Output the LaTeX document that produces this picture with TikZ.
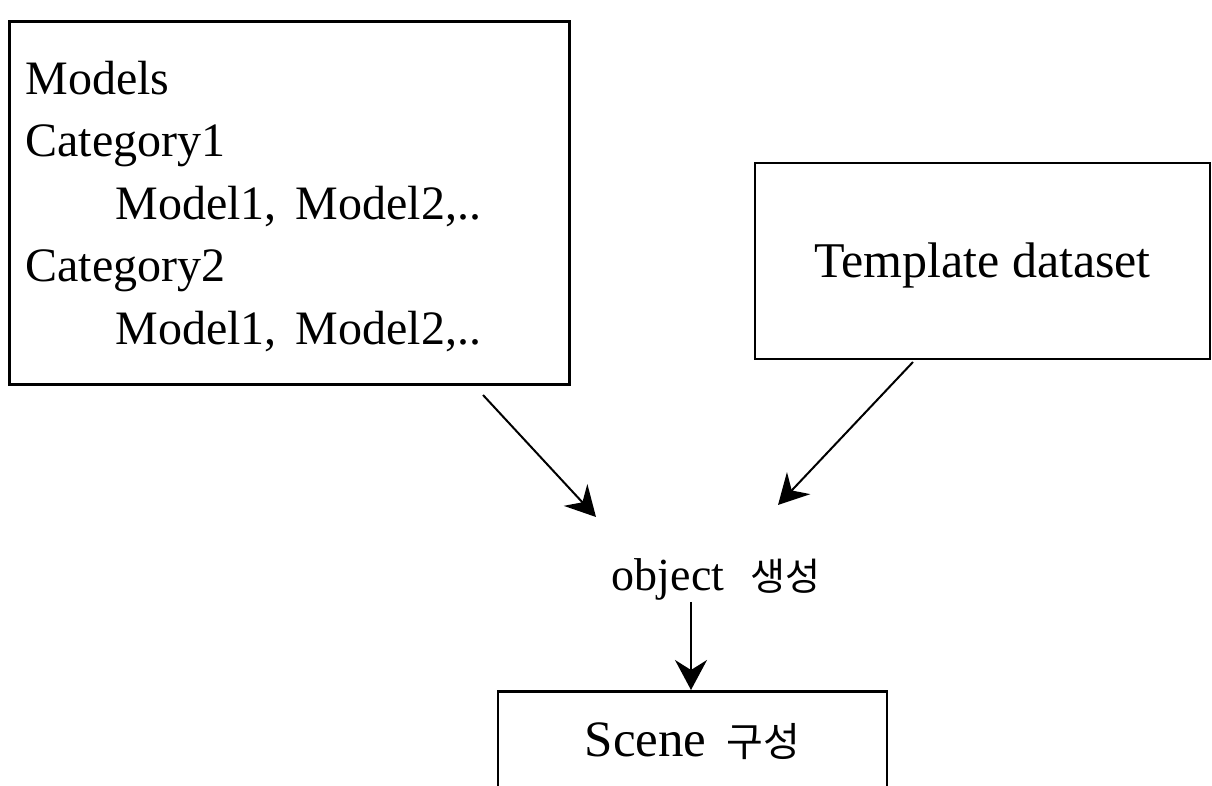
\documentclass[tikz,border=0pt]{standalone}
\usepackage{fontspec}
\setmainfont{Liberation Serif}
\newfontfamily\kr{Noto Sans CJK KR}
\usetikzlibrary{arrows.meta}

\begin{document}
\begin{tikzpicture}[x=0.5pt,y=-0.5pt,
	box/.style={draw, line width=1.3pt, inner sep=0pt},
	arr/.style={line width=1pt, -{Stealth[length=15pt,width=16pt,inset=5pt]}}]
		\useasboundingbox (0,0) rectangle (1212,786);
		\clip (0,0) rectangle (1212,786);
		% model list
		\node[box, anchor=north west, minimum width=280pt, minimum height=181.5pt] (models) at (8,20) {};
		\node[anchor=north west, inner sep=0pt, align=left, font=\fontsize{24}{31.25}\selectfont] (modlist) at (25,60.5)
			{Models\\Category1\\\hspace*{45pt}Model1,\hspace{0.4em}Model2,..\\Category2\\\hspace*{45pt}Model1,\hspace{0.4em}Model2,..};
		% template
		\node[box, minimum width=227.5pt, minimum height=98pt, text height=17pt, text depth=0pt, font=\fontsize{25}{30}\selectfont] (tmpl) at (982.5,261) {Template dataset};
		% object / scene
		\node[anchor=base, inner sep=0pt, font=\fontsize{23}{28}\selectfont] (obj) at (716,590) {object\hspace{13pt}{\kr\fontsize{19}{24}\selectfont 생성}};
		\node[box, anchor=north, minimum width=194.5pt, minimum height=65pt, text height=17pt, text depth=17pt, font=\fontsize{25.5}{30}\selectfont] (scene) at (692.5,690) {Scene\hspace{10pt}{\kr\fontsize{20}{24}\selectfont 구성}};
		\coordinate (mo) at (483,395);
		\coordinate (oi) at (596,517);
		\coordinate (to) at (913,362);
		\coordinate (oj) at (778,505);
		\coordinate (ob) at (691,602);
		\draw[arr] (mo) -- (oi);
		\draw[arr] (to) -- (oj);
		\draw[arr] (ob) -- (ob |- scene.north);
	\end{tikzpicture}
\end{document}
